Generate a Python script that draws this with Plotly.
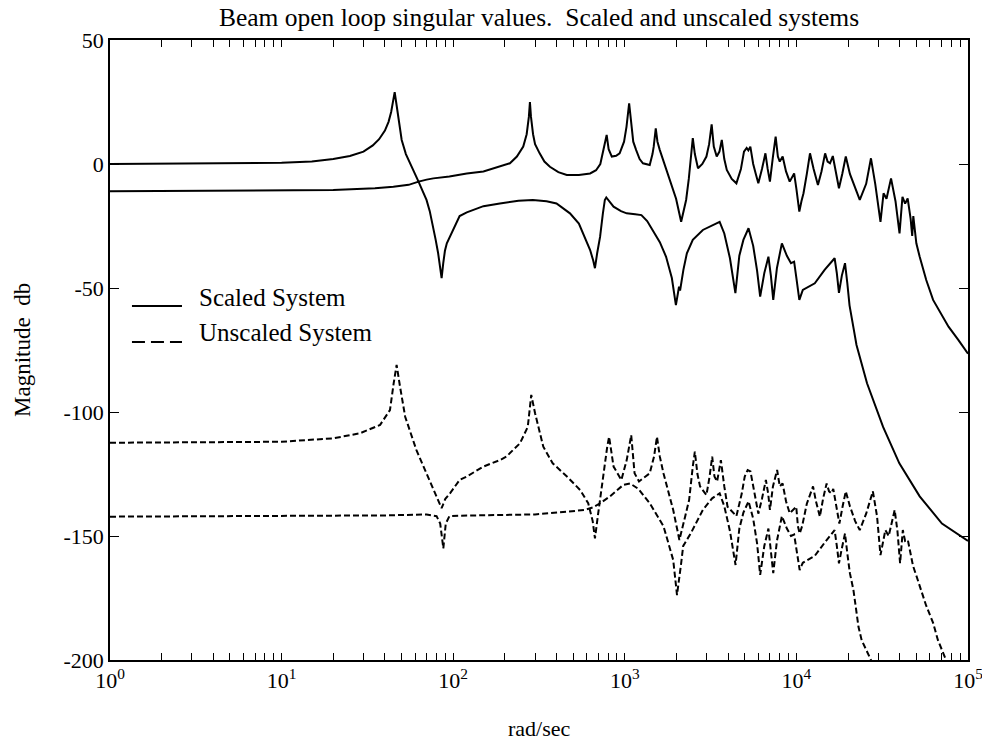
import plotly.graph_objects as go

# Beam open-loop singular values (dB) versus frequency (rad/sec)

# Scaled system, largest singular value
scaled_hi_w = [1, 5, 10, 15, 20, 25, 30, 34, 37, 40, 42, 43.5, 44.5, 45.6, 46.5, 47.5, 49, 50.1, 53, 56, 59, 62.8,
               70, 76.6, 95, 120, 150, 187, 214, 235, 256, 268, 276, 280, 284, 292, 300, 319, 340, 366, 410, 459,
               540, 628, 680, 720, 750, 784, 805, 840, 890, 933, 990, 1023, 1060, 1090, 1120, 1165, 1220, 1276,
               1397, 1450, 1474, 1515, 1550, 1600, 1700, 1832, 1990, 2130, 2200, 2277, 2360, 2435, 2490, 2560,
               2670, 2830, 2990, 3100, 3207, 3300, 3433, 3560, 3675, 3800, 3930, 4200, 4470, 4750, 4950, 5130,
               5250, 5390, 5600, 5800, 6000, 6300, 6600, 6800, 7010, 7300, 7570, 7800, 8000, 8315, 8700, 9140,
               9500, 9700, 10000, 10400, 10700, 11000, 11500, 12000, 12600, 13350, 14000, 14700, 15200, 15700,
               16300, 17000, 17700, 18500, 19400, 20500, 22000, 23400, 25500, 27200, 28800, 30900, 32200, 33500,
               35600, 37800, 39900, 41500, 43000, 44500, 46300, 47300, 48000, 48700, 50000, 52300, 57100, 62600,
               71000, 77000, 88000, 100000]
scaled_hi_db = [0, 0.2, 0.5, 1.0, 2.0, 3.2, 5.0, 7.5, 10, 13.5, 17, 21, 25, 29, 25, 21, 14, 9.7, 4, 0.3, -3.5, -7.1,
                -6.3, -5.8, -5, -3.8, -3, -1.1, 0.3, 3, 7, 12, 19, 25, 19, 12, 8, 4.3, 1, -1.1, -3.3, -4.4,
                -4.4, -3.8, -2.5, 0, 5.6, 11.7, 6, 3, 3.3, 4.3, 9, 15, 24.5, 15, 9, 5.6, 2, 0.3,
                -0.4, 4, 7, 14.4, 9, 5.6, 0, -6.5, -14, -23.3, -19, -14.5, -6, 3, 10.4, 4,
                -1.7, 0, 3, 8, 16, 7, 3, 5, 9.7, 2, -2.4, -6, -7.8, -2, 5, 6.5,
                5.5, 7, 0, -4, -7.8, -2, 4.3, -2, -7.1, 3, 11, 3, 1, 3, -3, -7.1,
                -4.5, -3.8, -10, -19.2, -15, -11.8, -4, 4.3, -2, -8.5, -3, 4.3, 1, 0.3,
                3.2, -3, -9.8, -4, 3, -4, -10, -14.5, -8, 2.3, -8, -23.3, -11.8, -14,
                -5.8, -15, -28, -13.2, -16, -13.9, -22, -29, -21, -26, -32, -37.4, -46.8, -54.8,
                -61.5, -65.6, -71, -76.5]

# Scaled system, smallest singular value
scaled_lo_w = [1, 10, 20, 35, 44.8, 55, 62.8, 66, 69.9, 73, 76.6, 79, 81.7, 84, 85.6, 87.5, 89.5, 91.8, 100, 109,
               120, 137, 150, 187, 240, 291, 350, 400, 479, 540, 573, 628, 655, 670, 690, 718, 745, 765, 780,
               860, 950, 1026, 1150, 1250, 1350, 1455, 1600, 1740, 1880, 1985, 2030, 2070, 2100, 2130, 2195,
               2300, 2490, 2850, 3200, 3570, 3800, 4100, 4410, 4650, 4910, 5260, 5600, 5900, 6150, 6500, 6870,
               7100, 7330, 7700, 8230, 8800, 9300, 9700, 10000, 10400, 10900, 12800, 14600, 16700, 17200,
               17700, 18400, 19200, 19800, 20400, 21500, 22400, 25800, 32000, 39800, 52300, 70500, 100000]
scaled_lo_db = [-11, -10.8, -10.5, -9.8, -9.2, -8.4, -7.1, -10.5, -14.5, -19, -25.3, -30.5, -36, -41, -46, -40,
                -35, -32, -26.6, -21, -19.5, -17.9, -17, -15.9, -14.8, -14.5, -15, -15.9, -19.9, -24, -28,
                -34.7, -39, -42, -36, -29.3, -20, -14.5, -13.5, -17.2, -19, -19.9, -20.3, -20.6, -23, -26.6,
                -31.5, -37.4, -46, -56.9, -52, -49.5, -51, -48, -42.7, -36, -30.6, -26.6, -25, -23.3, -28,
                -38, -52.1, -37, -30.6, -25.9, -33, -43, -53.5, -44, -37.4, -45, -54.8, -42, -32, -37, -40,
                -39.4, -46, -54.8, -50.8, -48.1, -42.7, -38, -44, -52, -45, -40, -48, -57, -66, -73, -88.4,
                -106, -120.7, -134, -145, -152]

# Unscaled system, first branch
unscaled_a_w = [1, 10, 20, 28.6, 37.5, 42.8, 45, 46.8, 49, 52.5, 61, 73, 80, 85.6, 90, 95.8, 109, 120, 150, 187,
                204, 245, 272, 285, 300, 335, 380, 460, 550, 612, 650, 670, 700, 750, 790, 810, 835, 860, 955,
                1026, 1090, 1140, 1210, 1397, 1480, 1540, 1600, 1680, 1915, 2080, 2250, 2370, 2490, 2560, 2650,
                2745, 2990, 3120, 3230, 3330, 3450, 3630, 3800, 3970, 4470, 4800, 5000, 5200, 5400, 5650, 6000,
                6300, 6640, 6850, 7010, 7300, 7720, 8000, 8310, 8700, 9140, 9980, 10200, 10450, 10800, 11500,
                12500, 13000, 13700, 14300, 15000, 15500, 16000, 16400, 17000, 17800, 18600, 19400, 20500,
                22000, 23400, 25500, 27900, 29500, 30900, 33000, 34500, 37400, 38800, 40200, 41700, 43000,
                44600, 46500, 47800, 50000, 53200, 57000, 62600, 66800, 74500, 85000]
unscaled_a_db = [-112.4, -112, -110.6, -108.6, -105.2, -99.2, -88.4, -81, -89.8, -101.9, -115.3, -127.4, -134,
                 -138.8, -135, -132.8, -127.4, -126, -122, -119.4, -118, -112.6, -106, -93.1, -100.5, -114,
                 -120.7, -126, -131.5, -136.8, -144, -151, -140.8, -124.7, -114, -110, -117, -122, -127.4,
                 -119.4, -109.3, -124.7, -128, -124.7, -118, -110, -118, -124.7, -139.5, -151.6, -142, -135.5,
                 -122, -116, -125, -130, -133.5, -126, -118, -126, -128, -119.4, -130, -138.2, -142, -133,
                 -126, -123.4, -124, -131, -141, -135, -127.4, -133, -139.5, -130, -123.4, -130, -128.8, -136,
                 -140.8, -138.2, -146, -149, -146, -137, -130, -136, -142.2, -135, -128.8, -132, -132.8, -131,
                 -137, -145, -138, -132, -138, -144, -147.6, -141, -132, -142, -157.7, -147.6, -150, -139.5,
                 -148, -161, -147.6, -152, -151.6, -158, -162, -166, -171.8, -178, -185, -192, -200, -210]

# Unscaled system, second branch
unscaled_b_w = [1, 10, 40, 70, 80, 84, 87.6, 90.5, 95, 110, 200, 300, 460, 583, 650, 718, 820, 980, 1073, 1200,
                1397, 1680, 1915, 2015, 2130, 2190, 2420, 2850, 3230, 3570, 3800, 4100, 4420, 4650, 4910, 5260,
                5600, 5900, 6150, 6500, 6870, 7100, 7330, 7700, 8230, 8800, 9300, 9700, 10000, 10450, 10900,
                12800, 14600, 16700, 17200, 17700, 18400, 19200, 19800, 20500, 21500, 23000, 24000, 27200, 30000]
unscaled_b_db = [-142.2, -142, -141.7, -141.3, -142, -145, -155, -145, -142, -141.8, -141.5, -141.3, -140.2,
                 -139.5, -138.5, -136.8, -134, -129.4, -128.8, -131, -136.8, -146, -159.7, -173.8, -161, -154,
                 -149, -139.5, -134.8, -132.8, -138, -148, -161.7, -147, -140.6, -136, -143, -153, -165.7, -154,
                 -147, -155, -165, -152, -142, -147, -150, -149.4, -156, -163.7, -160.8, -158, -152.7, -147.6,
                 -154, -161, -155, -149, -157, -165, -171.8, -186.6, -192, -200, -210]

decades = [1, 10, 100, 1000, 10000, 100000]
decade_labels = ["10<sup>0</sup>", "10<sup>1</sup>", "10<sup>2</sup>", "10<sup>3</sup>", "10<sup>4</sup>", "10<sup>5</sup>"]
db_ticks = [-200, -150, -100, -50, 0, 50]
db_labels = ["-200", "-150", "-100", "-50", "0", "50"]

# legend rows: label, sample dash, sample-line level and text level (dB)
legend_rows = [("Scaled System", "solid", -57.3, -54.0),
               ("Unscaled System", "13px,6px", -71.8, -68.1)]

SERIF = "Liberation Serif"
INK = "black"

fig = go.Figure()
solid = dict(color=INK, width=2)
dashed = dict(color=INK, width=2, dash="6px,3px")
fig.add_trace(go.Scatter(x=scaled_hi_w, y=scaled_hi_db, mode="lines", line=solid, showlegend=False))
fig.add_trace(go.Scatter(x=scaled_lo_w, y=scaled_lo_db, mode="lines", line=solid, showlegend=False))
fig.add_trace(go.Scatter(x=unscaled_a_w, y=unscaled_a_db, mode="lines", line=dashed, showlegend=False))
fig.add_trace(go.Scatter(x=unscaled_b_w, y=unscaled_b_db, mode="lines", line=dashed, showlegend=False))

# every 1..9 x decade gets a tick; only the decades are labelled
x_tickvals, x_ticktext = [], []
for i, d in enumerate(decades[:-1]):
    for m in range(1, 10):
        x_tickvals.append(m * d)
        x_ticktext.append(decade_labels[i] if m == 1 else "")
x_tickvals.append(decades[-1])
x_ticktext.append(decade_labels[-1])

fig.update_xaxes(
    type="log", range=[0, 5], showline=True, linecolor=INK, linewidth=1.6, mirror="ticks",
    tickmode="array", tickvals=x_tickvals, ticktext=x_ticktext,
    ticks="inside", ticklen=7, tickwidth=1.4, tickcolor=INK,
    ticklabeloverflow="allow", automargin=False,
    showgrid=False, zeroline=False,
    tickfont=dict(family=SERIF, size=22, color=INK),
)
fig.update_yaxes(
    range=[-200, 50], showline=True, linecolor=INK, linewidth=1.6, mirror="ticks",
    tickmode="array", tickvals=db_ticks, ticktext=db_labels,
    ticks="inside", ticklen=9, tickwidth=1.4, tickcolor=INK, automargin=False,
    showgrid=False, zeroline=False,
    tickfont=dict(family=SERIF, size=22, color=INK),
)

# axis titles
fig.add_annotation(text="rad/sec", xref="paper", yref="paper", x=0.5, y=-0.1339,
                   xanchor="center", yanchor="bottom", showarrow=False,
                   font=dict(family=SERIF, size=22, color=INK))
fig.add_annotation(text="Magnitude  db", xref="paper", yref="paper", x=-0.1026, y=0.5, textangle=-90,
                   xanchor="center", yanchor="middle", showarrow=False,
                   font=dict(family=SERIF, size=23, color=INK))

# legend drawn as sample lines with labels inside the axes
for label, dash, line_db, text_db in legend_rows:
    fig.add_shape(type="line", xref="paper", yref="y", x0=0.0256, x1=0.0839, y0=line_db, y1=line_db,
                  line=dict(color=INK, width=2, dash=dash))
    fig.add_annotation(text=label, xref="paper", yref="y", x=0.1014, y=text_db, xanchor="left",
                       yanchor="middle", showarrow=False, font=dict(family=SERIF, size=25, color=INK))

fig.update_layout(
    width=982, height=744,
    margin=dict(l=110, r=14, t=40, b=84),
    paper_bgcolor="white", plot_bgcolor="white",
    title=dict(text="Beam open loop singular values.&nbsp; Scaled and unscaled systems",
               x=0.5, xref="paper", xanchor="center", y=1 - 17 / 744, yref="container", yanchor="middle",
               font=dict(family=SERIF, size=25.5, color=INK)),
)

fig.write_html("out.html")
